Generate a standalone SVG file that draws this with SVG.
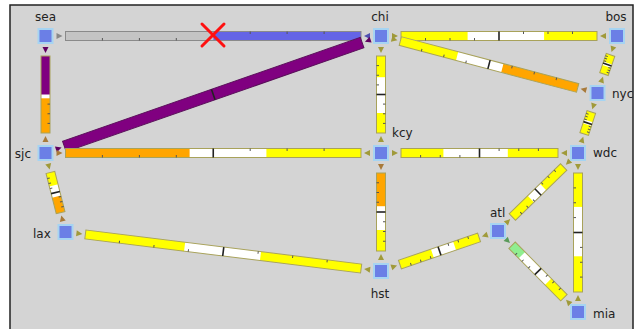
<svg xmlns="http://www.w3.org/2000/svg" width="641" height="329" viewBox="0 0 641 329">
<style>
.bg{fill:#fff;stroke:none}
.ol{fill:none;stroke:#a8a25a;stroke-width:1}
.olp{fill:none;stroke:#5a105a;stroke-width:1}
.y{fill:#ffff00}.o{fill:#ffa500}.p{fill:#800080}.g{fill:#90ee90}.gr{fill:#c4c4c4}.b{fill:#6464e6}
.tk{stroke:#555;stroke-width:1}
.dv{stroke:#222;stroke-width:1.6}
.ty{fill:#a09a3a}.to{fill:#a87a3a}.tp{fill:#600060}.tg{fill:#5a9a5a}.tgr{fill:#888}.tb{fill:#5050b0}
.nd{fill:#6b7fe6;stroke:#a6d4f2;stroke-width:2}
.lb{font-family:"DejaVu Sans",sans-serif;font-size:12px;fill:#222}
</style>
<rect x="0" y="0" width="641" height="329" fill="#fff"/>
<rect x="10" y="5" width="623" height="330" fill="#d4d4d4" stroke="#222" stroke-width="1.5"/>
<g id="connectors">
 <!-- sea-chi -->
 <g transform="translate(45.5,36)">
  <rect class="bg" x="20" y="-4.5" width="295.5" height="9"/>
  <rect class="gr" x="20" y="-4.5" width="147.75" height="9"/>
  <rect class="b" x="167.75" y="-4.5" width="147.75" height="9"/>
  <rect x="20" y="-4.5" width="295.5" height="9" fill="none" stroke="#8a8a8a"/>
  <path class="tk" d="M56.9,4.5v-2.5M93.9,4.5v-2.5M130.8,4.5v-2.5M278.6,-4.5v2.5M241.6,-4.5v2.5M204.7,-4.5v2.5"/>
  <polygon class="tgr" points="11,-3 17,0 11,3"/>
  <polygon class="tb" points="324.5,-3 318.5,0 324.5,3"/>
 </g>
 <!-- chi-bos -->
 <g transform="translate(381,36)">
  <rect class="bg" x="20" y="-4.5" width="196" height="9"/>
  <rect class="y" x="20" y="-4.5" width="66.6" height="9"/>
  <rect class="y" x="163.1" y="-4.5" width="52.9" height="9"/>
  <rect class="ol" x="20" y="-4.5" width="196" height="9"/>
  <path class="tk" d="M44.5,4.5v-2.5M69,4.5v-2.5M93.5,4.5v-2.5M191.5,-4.5v2.5M167,-4.5v2.5M142.5,-4.5v2.5"/>
  <path class="dv" d="M118,-4.5v9"/>
  <polygon class="ty" points="11,-3 17,0 11,3"/>
  <polygon class="ty" points="225,-3 219,0 225,3"/>
 </g>
 <!-- chi-nyc -->
 <g transform="translate(381,36) rotate(14.78)">
  <rect class="bg" x="20" y="-4.5" width="183.4" height="9"/>
  <rect class="y" x="20" y="-4.5" width="58.7" height="9"/>
  <rect class="o" x="125.5" y="-4.5" width="77.9" height="9"/>
  <rect class="ol" x="20" y="-4.5" width="183.4" height="9"/>
  <path class="tk" d="M42.9,4.5v-2.5M65.9,4.5v-2.5M88.8,4.5v-2.5M180.5,-4.5v2.5M157.6,-4.5v2.5M134.6,-4.5v2.5"/>
  <path class="dv" d="M111.7,-4.5v9"/>
  <polygon class="ty" points="11,-3 17,0 11,3"/>
  <polygon class="to" points="212.4,-3 206.4,0 212.4,3"/>
 </g>
 <!-- bos-nyc -->
 <g transform="translate(617,36) rotate(108.9)">
  <rect class="bg" x="20" y="-4.5" width="20.2" height="9"/>
  <rect class="y" x="20" y="-4.5" width="8.6" height="9"/>
  <rect class="y" x="32.1" y="-4.5" width="8.1" height="9"/>
  <rect class="ol" x="20" y="-4.5" width="20.2" height="9"/>
  <path class="tk" d="M22.5,4.5v-2.5M25,4.5v-2.5M27.6,4.5v-2.5M37.7,-4.5v2.5M35.1,-4.5v2.5M32.6,-4.5v2.5"/>
  <path class="dv" d="M30.1,-4.5v9"/>
  <polygon class="ty" points="11,-3 17,0 11,3"/>
  <polygon class="ty" points="49.2,-3 43.2,0 49.2,3"/>
 </g>
 <!-- nyc-wdc -->
 <g transform="translate(597.5,93) rotate(108)">
  <rect class="bg" x="20" y="-4.5" width="23.1" height="9"/>
  <rect class="y" x="20" y="-4.5" width="9.2" height="9"/>
  <rect class="y" x="33.3" y="-4.5" width="9.8" height="9"/>
  <rect class="ol" x="20" y="-4.5" width="23.1" height="9"/>
  <path class="tk" d="M22.9,4.5v-2.5M25.8,4.5v-2.5M28.7,4.5v-2.5M40.2,-4.5v2.5M37.3,-4.5v2.5M34.4,-4.5v2.5"/>
  <path class="dv" d="M31.55,-4.5v9"/>
  <polygon class="ty" points="11,-3 17,0 11,3"/>
  <polygon class="ty" points="52.1,-3 46.1,0 52.1,3"/>
 </g>
 <!-- sea-sjc -->
 <g transform="translate(45.5,36) rotate(90)">
  <rect class="bg" x="20" y="-4.5" width="77" height="9"/>
  <rect class="p" x="20" y="-4.5" width="38.5" height="9"/>
  <rect class="o" x="62.3" y="-4.5" width="34.7" height="9"/>
  <rect class="ol" x="20" y="-4.5" width="77" height="9"/>
  <path class="tk" d="M87.4,-4.5v2.5M77.75,-4.5v2.5M68.1,-4.5v2.5"/>
  <polygon class="tp" points="11,-3 17,0 11,3"/>
  <polygon class="to" points="106,-3 100,0 106,3"/>
 </g>
 <!-- sjc-chi -->
 <g transform="translate(45.5,153) rotate(-19.22)">
  <rect class="p" x="20" y="-5.5" width="315.3" height="11"/>
  <rect class="olp" x="20" y="-5.5" width="315.3" height="11"/>
  <path class="dv" d="M177.65,-5.5v11"/>
  <polygon class="tp" points="11,-3 17,0 11,3"/>
  <polygon class="tp" points="344.3,-3 338.3,0 344.3,3"/>
 </g>
 <!-- sjc-kcy -->
 <g transform="translate(45.5,153)">
  <rect class="bg" x="20" y="-4.5" width="295.5" height="9"/>
  <rect class="o" x="20" y="-4.5" width="124.1" height="9"/>
  <rect class="y" x="220.9" y="-4.5" width="94.6" height="9"/>
  <rect class="ol" x="20" y="-4.5" width="295.5" height="9"/>
  <path class="tk" d="M56.9,4.5v-2.5M93.9,4.5v-2.5M130.8,4.5v-2.5M278.6,-4.5v2.5M241.6,-4.5v2.5M204.7,-4.5v2.5"/>
  <path class="dv" d="M167.75,-4.5v9"/>
  <polygon class="to" points="11,-3 17,0 11,3"/>
  <polygon class="ty" points="324.5,-3 318.5,0 324.5,3"/>
 </g>
 <!-- chi-kcy -->
 <g transform="translate(381,36) rotate(90)">
  <rect class="bg" x="20" y="-4.5" width="77" height="9"/>
  <rect class="y" x="20" y="-4.5" width="21.2" height="9"/>
  <rect class="y" x="77" y="-4.5" width="20" height="9"/>
  <rect class="ol" x="20" y="-4.5" width="77" height="9"/>
  <path class="tk" d="M29.6,4.5v-2.5M39.25,4.5v-2.5M48.9,4.5v-2.5M87.4,-4.5v2.5M77.75,-4.5v2.5M68.1,-4.5v2.5"/>
  <path class="dv" d="M58.5,-4.5v9"/>
  <polygon class="ty" points="11,-3 17,0 11,3"/>
  <polygon class="ty" points="106,-3 100,0 106,3"/>
 </g>
 <!-- kcy-hst -->
 <g transform="translate(381,153) rotate(90)">
  <rect class="bg" x="20" y="-4.5" width="78" height="9"/>
  <rect class="o" x="20" y="-4.5" width="33.2" height="9"/>
  <rect class="y" x="77" y="-4.5" width="21" height="9"/>
  <rect class="ol" x="20" y="-4.5" width="78" height="9"/>
  <path class="tk" d="M29.75,4.5v-2.5M39.5,4.5v-2.5M49.25,4.5v-2.5M88.25,-4.5v2.5M78.5,-4.5v2.5M68.75,-4.5v2.5"/>
  <path class="dv" d="M59,-4.5v9"/>
  <polygon class="to" points="11,-3 17,0 11,3"/>
  <polygon class="ty" points="107,-3 101,0 107,3"/>
 </g>
 <!-- kcy-wdc -->
 <g transform="translate(381,153)">
  <rect class="bg" x="20" y="-4.5" width="157" height="9"/>
  <rect class="y" x="20" y="-4.5" width="42.4" height="9"/>
  <rect class="y" x="126.8" y="-4.5" width="50.2" height="9"/>
  <rect class="ol" x="20" y="-4.5" width="157" height="9"/>
  <path class="tk" d="M39.6,4.5v-2.5M59.25,4.5v-2.5M78.9,4.5v-2.5M157.4,-4.5v2.5M137.75,-4.5v2.5M118.1,-4.5v2.5"/>
  <path class="dv" d="M98.5,-4.5v9"/>
  <polygon class="ty" points="11,-3 17,0 11,3"/>
  <polygon class="ty" points="186,-3 180,0 186,3"/>
 </g>
 <!-- wdc-atl -->
 <g transform="translate(578,153) rotate(135.73)">
  <rect class="bg" x="20" y="-4.5" width="71.7" height="9"/>
  <rect class="y" x="20" y="-4.5" width="28.7" height="9"/>
  <rect class="y" x="65.9" y="-4.5" width="25.8" height="9"/>
  <rect class="ol" x="20" y="-4.5" width="71.7" height="9"/>
  <path class="tk" d="M29,4.5v-2.5M37.9,4.5v-2.5M46.9,4.5v-2.5M82.7,-4.5v2.5M73.8,-4.5v2.5M64.8,-4.5v2.5"/>
  <path class="dv" d="M55.85,-4.5v9"/>
  <polygon class="ty" points="11,-3 17,0 11,3"/>
  <polygon class="ty" points="100.7,-3 94.7,0 100.7,3"/>
 </g>
 <!-- wdc-mia -->
 <g transform="translate(578,153) rotate(90)">
  <rect class="bg" x="20" y="-4.5" width="119" height="9"/>
  <rect class="y" x="20" y="-4.5" width="33.9" height="9"/>
  <rect class="y" x="103.3" y="-4.5" width="35.7" height="9"/>
  <rect class="ol" x="20" y="-4.5" width="119" height="9"/>
  <path class="tk" d="M34.9,4.5v-2.5M49.75,4.5v-2.5M64.6,4.5v-2.5M124.1,-4.5v2.5M109.25,-4.5v2.5M94.4,-4.5v2.5"/>
  <path class="dv" d="M79.5,-4.5v9"/>
  <polygon class="ty" points="11,-3 17,0 11,3"/>
  <polygon class="ty" points="148,-3 142,0 148,3"/>
 </g>
 <!-- atl-mia -->
 <g transform="translate(498,231) rotate(45.35)">
  <rect class="bg" x="20" y="-4.5" width="73.8" height="9"/>
  <rect class="g" x="20" y="-4.5" width="14" height="9"/>
  <rect class="y" x="71.3" y="-4.5" width="22.5" height="9"/>
  <rect class="ol" x="20" y="-4.5" width="73.8" height="9"/>
  <path class="tk" d="M29.2,4.5v-2.5M38.45,4.5v-2.5M47.7,4.5v-2.5M84.6,-4.5v2.5M75.35,-4.5v2.5M66.1,-4.5v2.5"/>
  <path class="dv" d="M56.9,-4.5v9"/>
  <polygon class="tg" points="11,-3 17,0 11,3"/>
  <polygon class="ty" points="102.8,-3 96.8,0 102.8,3"/>
 </g>
 <!-- atl-hst -->
 <g transform="translate(498,231) rotate(161.13)">
  <rect class="bg" x="20" y="-4.5" width="83.65" height="9"/>
  <rect class="y" x="20" y="-4.5" width="25.9" height="9"/>
  <rect class="y" x="69.35" y="-4.5" width="34.3" height="9"/>
  <rect class="ol" x="20" y="-4.5" width="83.65" height="9"/>
  <path class="tk" d="M30.45,4.5v-2.5M40.9,4.5v-2.5M51.35,4.5v-2.5M93.2,-4.5v2.5M82.75,-4.5v2.5M72.3,-4.5v2.5"/>
  <path class="dv" d="M61.8,-4.5v9"/>
  <polygon class="ty" points="11,-3 17,0 11,3"/>
  <polygon class="ty" points="112.65,-3 106.65,0 112.65,3"/>
 </g>
 <!-- lax-hst -->
 <g transform="translate(65.5,232) rotate(7.05)">
  <rect class="bg" x="20" y="-4.5" width="277.9" height="9"/>
  <rect class="y" x="20" y="-4.5" width="100" height="9"/>
  <rect class="y" x="196.5" y="-4.5" width="101.4" height="9"/>
  <rect class="ol" x="20" y="-4.5" width="277.9" height="9"/>
  <path class="tk" d="M54.7,4.5v-2.5M89.5,4.5v-2.5M124.2,4.5v-2.5M263.2,-4.5v2.5M228.5,-4.5v2.5M193.7,-4.5v2.5"/>
  <path class="dv" d="M158.95,-4.5v9"/>
  <polygon class="ty" points="11,-3 17,0 11,3"/>
  <polygon class="ty" points="306.9,-3 300.9,0 306.9,3"/>
 </g>
 <!-- sjc-lax -->
 <g transform="translate(45.5,153) rotate(75.8)">
  <rect class="bg" x="20" y="-4.5" width="41.5" height="9"/>
  <rect class="y" x="20" y="-4.5" width="13.5" height="9"/>
  <rect class="o" x="44.9" y="-4.5" width="16.6" height="9"/>
  <rect class="ol" x="20" y="-4.5" width="41.5" height="9"/>
  <path class="tk" d="M25.2,4.5v-2.5M30.4,4.5v-2.5M35.6,4.5v-2.5M56.3,-4.5v2.5M51.1,-4.5v2.5M45.9,-4.5v2.5"/>
  <path class="dv" d="M40.75,-4.5v9"/>
  <polygon class="ty" points="11,-3 17,0 11,3"/>
  <polygon class="to" points="70.5,-3 64.5,0 70.5,3"/>
 </g>
 <!-- down marker -->
 <path d="M202,24L224,46M224,24L202,46" stroke="#ff1010" stroke-width="3" stroke-linecap="round"/>
</g>
<g id="sea"><rect class="nd" x="38.5" y="29" width="14" height="14" stroke="#eef3ff"/><text class="lb" x="45.5" y="21" text-anchor="middle">sea</text></g>
<g id="chi"><rect class="nd" x="374" y="29" width="14" height="14"/><text class="lb" x="380" y="21" text-anchor="middle">chi</text></g>
<g id="bos"><rect class="nd" x="610" y="29" width="14" height="14" stroke="#eef3ff"/><text class="lb" x="616" y="21" text-anchor="middle">bos</text></g>
<g id="nyc"><rect class="nd" x="590.5" y="86" width="14" height="14"/><text class="lb" x="612" y="98">nyc</text></g>
<g id="sjc"><rect class="nd" x="38.5" y="146" width="14" height="14" stroke="#80e080"/><text class="lb" x="31" y="158" text-anchor="end">sjc</text></g>
<g id="kcy"><rect class="nd" x="374" y="146" width="14" height="14"/><text class="lb" x="392" y="137">kcy</text></g>
<g id="wdc"><rect class="nd" x="571" y="146" width="14" height="14"/><text class="lb" x="593" y="157">wdc</text></g>
<g id="lax"><rect class="nd" x="58.5" y="225" width="14" height="14"/><text class="lb" x="33" y="238">lax</text></g>
<g id="atl"><rect class="nd" x="491" y="224" width="14" height="14"/><text class="lb" x="490" y="217">atl</text></g>
<g id="hst"><rect class="nd" x="374" y="264" width="14" height="14"/><text class="lb" x="380" y="298" text-anchor="middle">hst</text></g>
<g id="mia"><rect class="nd" x="571" y="305" width="14" height="14" stroke="#eef3ff"/><text class="lb" x="593" y="318">mia</text></g>
</svg>
